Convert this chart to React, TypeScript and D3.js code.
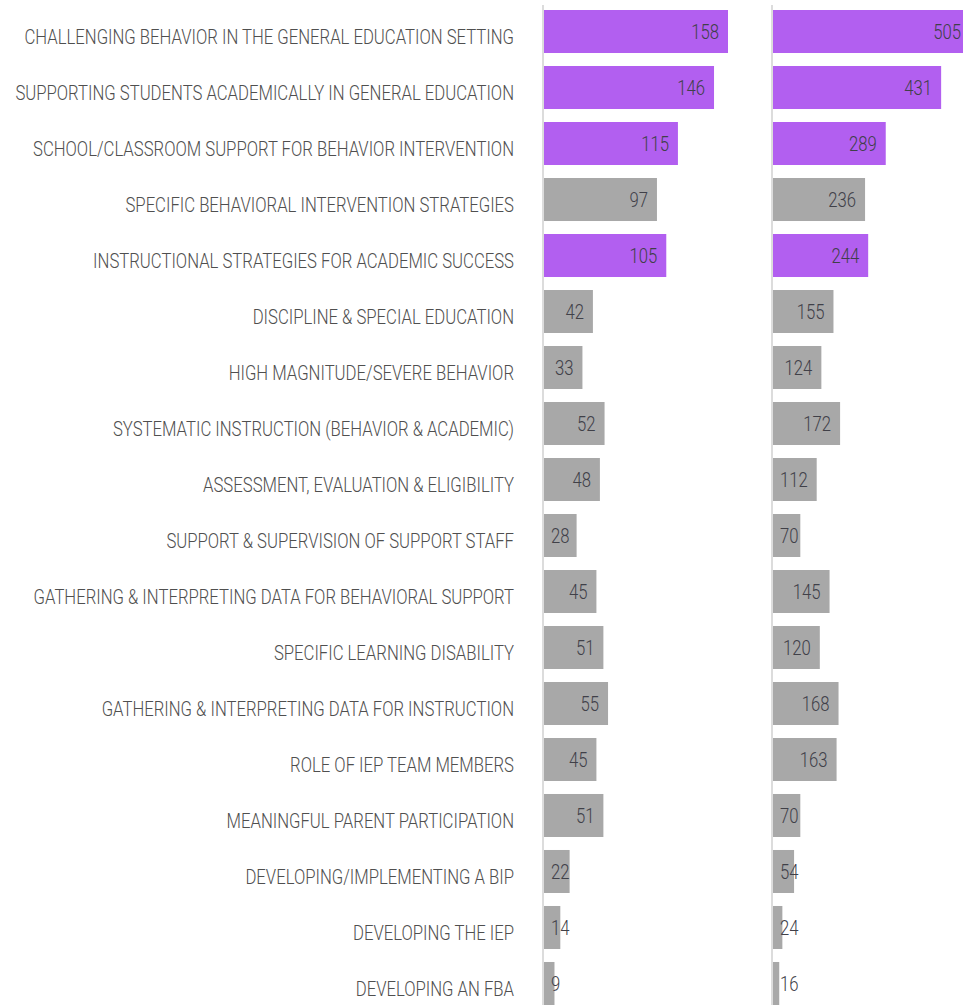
import { useEffect, useRef } from 'react';
import * as d3 from 'd3';

const categories = [
  'CHALLENGING BEHAVIOR IN THE GENERAL EDUCATION SETTING',
  'SUPPORTING STUDENTS ACADEMICALLY IN GENERAL EDUCATION',
  'SCHOOL/CLASSROOM SUPPORT FOR BEHAVIOR INTERVENTION',
  'SPECIFIC BEHAVIORAL INTERVENTION STRATEGIES',
  'INSTRUCTIONAL STRATEGIES FOR ACADEMIC SUCCESS',
  'DISCIPLINE & SPECIAL EDUCATION',
  'HIGH MAGNITUDE/SEVERE BEHAVIOR',
  'SYSTEMATIC INSTRUCTION (BEHAVIOR & ACADEMIC)',
  'ASSESSMENT, EVALUATION & ELIGIBILITY',
  'SUPPORT & SUPERVISION OF SUPPORT STAFF',
  'GATHERING & INTERPRETING DATA FOR BEHAVIORAL SUPPORT',
  'SPECIFIC LEARNING DISABILITY',
  'GATHERING & INTERPRETING DATA FOR INSTRUCTION',
  'ROLE OF IEP TEAM MEMBERS',
  'MEANINGFUL PARENT PARTICIPATION',
  'DEVELOPING/IMPLEMENTING A BIP',
  'DEVELOPING THE IEP',
  'DEVELOPING AN FBA',
];

const leftValues = [158, 146, 115, 97, 105, 42, 33, 52, 48, 28, 45, 51, 55, 45, 51, 22, 14, 9];
const rightValues = [505, 431, 289, 236, 244, 155, 124, 172, 112, 70, 145, 120, 168, 163, 70, 54, 24, 16];
const highlighted = [
  'CHALLENGING BEHAVIOR IN THE GENERAL EDUCATION SETTING',
  'SUPPORTING STUDENTS ACADEMICALLY IN GENERAL EDUCATION',
  'SCHOOL/CLASSROOM SUPPORT FOR BEHAVIOR INTERVENTION',
  'INSTRUCTIONAL STRATEGIES FOR ACADEMIC SUCCESS',
];

const FONT = 'Roboto, "Noto Sans", sans-serif';

const App = () => {
  const ref = useRef<SVGSVGElement>(null);

  useEffect(() => {
    const width = 963;
    const height = 1005;
    const svg = d3.select(ref.current);
    svg.selectAll('*').remove();
    svg.attr('width', width).attr('height', height);

    const y = d3.scaleBand().domain(categories).range([10, 1005]).paddingInner(0.232).paddingOuter(0);

    // measure the font once to squeeze it into a condensed look
    const probe = svg
      .append('text')
      .attr('font-family', FONT)
      .attr('font-size', 20)
      .attr('font-weight', 300)
      .text(categories[0]);
    const natural = (probe.node() as SVGTextElement).getComputedTextLength();
    probe.remove();
    const k = natural > 0 ? 490 / natural : 0.8;

    // category labels
    svg
      .append('g')
      .selectAll('text')
      .data(categories)
      .enter()
      .append('text')
      .attr('transform', (d) => `translate(514,${y(d)! + y.bandwidth() / 2 + 5}) scale(${k},1)`)
      .attr('dy', '0.35em')
      .attr('text-anchor', 'end')
      .attr('font-family', FONT)
      .attr('font-size', 20)
      .attr('font-weight', 300)
      .attr('fill', '#4f4f4f')
      .text((d) => d);

    const panels = [
      { values: leftValues, x0: 544, max: 158, span: 184 },
      { values: rightValues, x0: 773, max: 505, span: 197 },
    ];

    panels.forEach((p) => {
      const x = d3.scaleLinear().domain([0, p.max]).range([p.x0, p.x0 + p.span]);
      const g = svg.append('g');

      g.selectAll('rect')
        .data(p.values)
        .enter()
        .append('rect')
        .attr('x', x(0))
        .attr('y', (_, i) => y(categories[i])!)
        .attr('width', (d) => x(d) - x(0))
        .attr('height', y.bandwidth())
        .attr('fill', (_, i) => (highlighted.includes(categories[i]) ? '#b25ff0' : '#a8a8a8'));

      const labels = g
        .selectAll('text')
        .data(p.values)
        .enter()
        .append('text')
        .attr('dy', '0.35em')
        .attr('text-anchor', 'end')
        .attr('font-family', FONT)
        .attr('font-size', 20)
        .attr('font-weight', 300)
        .attr('fill', '#404048')
        .text((d) => d);

      labels.attr('transform', function (d, i) {
        const w = (this as SVGTextElement).getComputedTextLength() * k;
        const xe = Math.max(x(d) - 9, x(0) + 7 + w);
        return `translate(${xe},${y(categories[i])! + y.bandwidth() / 2}) scale(${k},1)`;
      });

      g.append('line')
        .attr('x1', p.x0 - 1)
        .attr('x2', p.x0 - 1)
        .attr('y1', 5)
        .attr('y2', height)
        .attr('stroke', '#dcdcdc')
        .attr('stroke-width', 2);
    });
  }, []);

  return <svg ref={ref} style={{ position: 'absolute', left: 0, top: 0, overflow: 'hidden' }} />;
};

export default App;
